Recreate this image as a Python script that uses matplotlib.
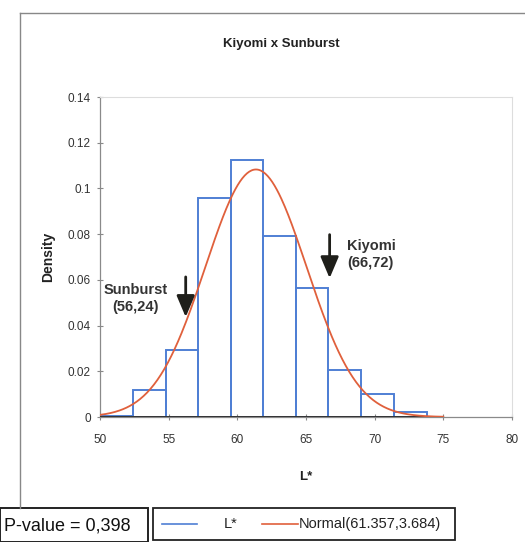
import numpy as np
import matplotlib.pyplot as plt
from matplotlib.lines import Line2D
from matplotlib.patches import Rectangle

# histogram of L* (density), bin edges and heights
bin_edges = [50.05, 52.43, 54.80, 57.15, 59.52, 61.89, 64.27, 66.63, 69.00, 71.40, 73.79]
densities = [0.0006, 0.0118, 0.0294, 0.0958, 0.1124, 0.0794, 0.0566, 0.0206, 0.0102, 0.0022]

# fitted normal from the legend
mu, sigma = 61.357, 3.684

# annotations: (x of arrow, arrow top, arrow tip, label x, label y, text)
sunburst = (56.24, 0.0625, 0.0425, 52.6, 0.052, "Sunburst\n(56,24)")
kiyomi = (66.72, 0.081, 0.0595, 68.0, 0.0712, "Kiyomi\n(66,72)")

legend_labels = ["L*", "Normal(61.357,3.684)"]
p_text = "P-value = 0,398"

W, H = 525, 542
fig = plt.figure(figsize=(W / 100, H / 100), dpi=100)
plt.rcParams['font.family'] = ['Liberation Sans', 'DejaVu Sans']


def fx(px):
    return px / W


def fy(py):
    return 1 - py / H


ax = fig.add_axes([fx(100), fy(417), 412 / W, 320 / H])

blue = "#4f7fd4"
red = "#e0603c"
dark = "#1f1f1a"

widths = np.diff(bin_edges)
ax.bar(bin_edges[:-1], densities, width=widths, align="edge",
       facecolor="none", edgecolor=blue, linewidth=1.4, zorder=2)
ax.plot([bin_edges[0], bin_edges[-1]], [0, 0], color="#333333", lw=1.4, zorder=3)

xs = np.linspace(50, 75, 300)
pdf = np.exp(-0.5 * ((xs - mu) / sigma) ** 2) / (sigma * np.sqrt(2 * np.pi))
ax.plot(xs, pdf, color=red, lw=1.3, zorder=4)

for xa, ytop, ytip, tx, ty, txt in (sunburst, kiyomi):
    ax.annotate("", xy=(xa, ytip), xytext=(xa, ytop),
                arrowprops=dict(arrowstyle="-|>,head_width=0.55,head_length=1.3",
                                color=dark, lw=2.0), zorder=5)
ax.text(sunburst[3], sunburst[4], sunburst[5], ha="center", va="center",
        fontsize=10.5, fontweight="bold", color="#333333", linespacing=1.25)
ax.text(kiyomi[3], kiyomi[4], kiyomi[5], ha="left", va="center",
        fontsize=10.5, fontweight="bold", color="#333333", linespacing=1.25)

ax.set_xlim(50, 80)
ax.set_ylim(0, 0.14)
ax.set_xticks(range(50, 81, 5))
ax.set_yticks([0, 0.02, 0.04, 0.06, 0.08, 0.1, 0.12, 0.14])
ax.set_yticklabels(["0", "0.02", "0.04", "0.06", "0.08", "0.1", "0.12", "0.14"])
ax.tick_params(direction="inout", length=5, width=0.8, color="#888888",
               labelsize=8.5, labelcolor="#333333", pad=4)
ax.tick_params(axis="x", pad=10)
for side in ("left", "bottom"):
    ax.spines[side].set_color("#8a8a8a")
    ax.spines[side].set_linewidth(0.9)
for side in ("top", "right"):
    ax.spines[side].set_color("#dddddd")
    ax.spines[side].set_linewidth(0.8)

ax.set_xlabel("L*", fontsize=9.5, fontweight="bold", color="#222222", labelpad=18)
ax.set_ylabel("Density", fontsize=10, fontweight="bold", color="#222222", labelpad=9)
fig.text(fx(281), fy(44), "Kiyomi x Sunburst", fontsize=9.5, fontweight="bold",
         color="#222222", ha="center", va="center")

# outer chart frame (left and top)
fig.add_artist(Line2D([fx(20), fx(20)], [fy(13), fy(508)], color="#888888", lw=1.0))
fig.add_artist(Line2D([fx(20), 1.0], [fy(13), fy(13)], color="#888888", lw=1.0))

# legend box, laid out like the spreadsheet one
fig.add_artist(Rectangle((fx(153), fy(540)), 302 / W, 32 / H, transform=fig.transFigure,
                         facecolor="white", edgecolor="#222222", lw=1.3))
fig.add_artist(Line2D([fx(162), fx(197)], [fy(524), fy(524)], color=blue, lw=1.2))
fig.text(fx(224), fy(524), legend_labels[0], fontsize=10.5, ha="left", va="center", color="#222222")
fig.add_artist(Line2D([fx(262), fx(298)], [fy(524), fy(524)], color=red, lw=1.2))
fig.text(fx(299), fy(524), legend_labels[1], fontsize=10.5, ha="left", va="center", color="#222222")

# p-value box
fig.add_artist(Rectangle((0, fy(542)), 148 / W, 34 / H, transform=fig.transFigure,
                         facecolor="white", edgecolor="#222222", lw=1.4))
fig.text(fx(4), fy(526), p_text, fontsize=13, ha="left", va="center", color="#111111")

fig.savefig("out.png", dpi=100, facecolor="white")
